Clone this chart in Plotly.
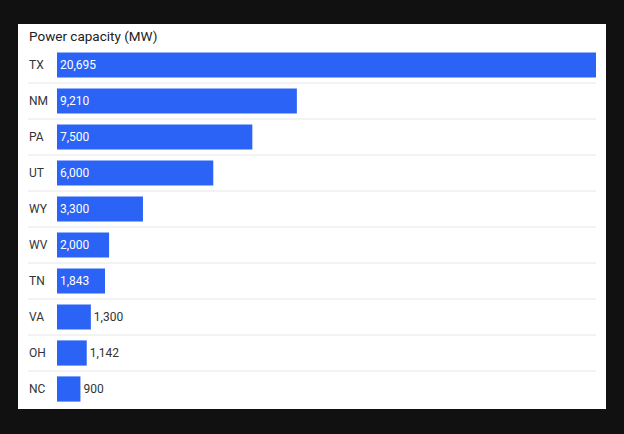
import plotly.graph_objects as go

states = ["TX", "NM", "PA", "UT", "WY", "WV", "TN", "VA", "OH", "NC"]
capacity_mw = [20695, 9210, 7500, 6000, 3300, 2000, 1843, 1300, 1142, 900]
title_text = "Power capacity (MW)"

W, H = 624, 434
L, R, T, B = 18, 606, 24, 409  # white panel in pixels
x0_px, xmax_px = 57, 596
pitch = 36.0
first_center = 65.0

units_per_px = max(capacity_mw) / (xmax_px - x0_px)
x_range = [-(x0_px - L) * units_per_px, max(capacity_mw) + (R - xmax_px) * units_per_px]
y_range = [(B - first_center) / pitch, (T - first_center) / pitch]

text_pos = ["inside" if v > 1500 else "outside" for v in capacity_mw]
text_col = ["white" if p == "inside" else "#333333" for p in text_pos]

fig = go.Figure(go.Bar(
    x=capacity_mw, y=states, orientation="h",
    marker=dict(color="#2a63f6", line=dict(width=0)),
    width=0.7,
    texttemplate="%{x:,}",
    textposition=text_pos,
    insidetextanchor="start",
    textfont=dict(family="Roboto", size=12, color=text_col),
    cliponaxis=False,
    hoverinfo="skip",
))

shapes = []
for i in range(len(states) - 1):
    shapes.append(dict(type="line", xref="paper", yref="y",
                       x0=(28 - L) / (R - L), x1=(xmax_px - L) / (R - L),
                       y0=i + 0.5, y1=i + 0.5,
                       line=dict(color="#e6e6e6", width=1), layer="below"))

annotations = [dict(text=s, x=0, xref="paper", xshift=9, xanchor="left",
                    y=s, yref="y", showarrow=False,
                    font=dict(family="Roboto", size=12, color="#333333"))
               for s in states]
annotations.append(dict(text=title_text, x=0, xref="paper", xshift=9, xanchor="left",
                        y=1, yref="paper", yanchor="top", yshift=-2, showarrow=False,
                        font=dict(family="Roboto", size=13.5, color="#222222")))

fig.update_layout(
    width=W, height=H,
    margin=dict(l=L, r=W - R, t=T, b=H - B, pad=0),
    paper_bgcolor="#111111", plot_bgcolor="white",
    showlegend=False,
    xaxis=dict(range=x_range, visible=False, fixedrange=True),
    yaxis=dict(range=y_range, type="category", categoryorder="array", categoryarray=states,
               showticklabels=False, showgrid=False, zeroline=False, fixedrange=True),
    shapes=shapes, annotations=annotations,
    uniformtext=dict(mode=False),
)

fig.write_html("out.html", config={"displayModeBar": False},
               post_script="document.body.style.margin='0';document.body.style.padding='0';"
                           "document.body.style.background='#111111';"
                           "document.body.style.overflow='hidden';")
